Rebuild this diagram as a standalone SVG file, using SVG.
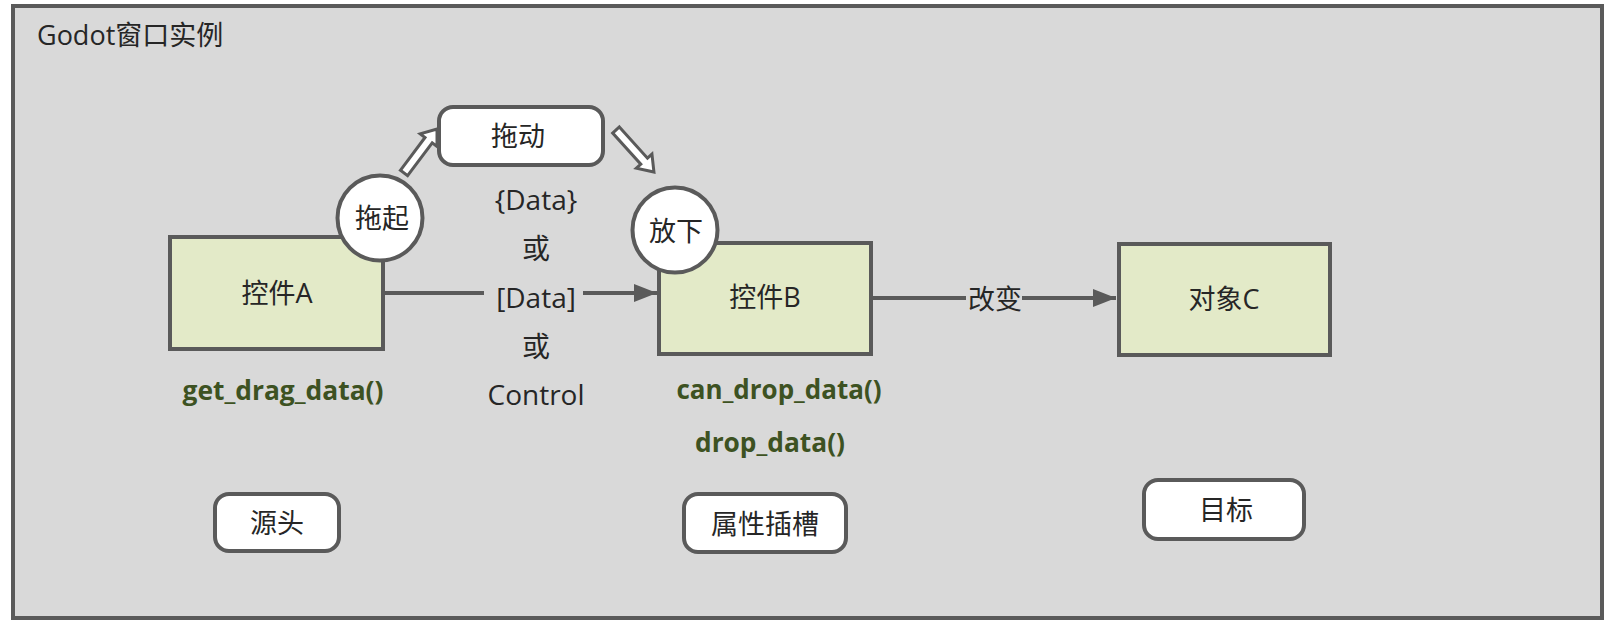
<svg xmlns="http://www.w3.org/2000/svg" width="1614" height="623" viewBox="0 0 1614 623">
<style>
.t{font-family:"Open Sans","Noto Sans CJK SC",sans-serif;font-size:27px;fill:#262626;text-anchor:middle}
.m{font-size:28px}
.g{font-family:"Open Sans","Noto Sans CJK SC",sans-serif;font-weight:bold;font-size:26px;fill:#3d5222;text-anchor:middle}
.box{fill:#e3eac8;stroke:#5a5a5a;stroke-width:4}
.rr{fill:#ffffff;stroke:#5a5a5a;stroke-width:4}
.ln{fill:none;stroke:#5a5a5a;stroke-width:4}
.ha{fill:#ffffff;stroke:#5a5a5a;stroke-width:3;stroke-linejoin:miter}
</style>
<defs>
<marker id="ah" markerUnits="userSpaceOnUse" markerWidth="23" markerHeight="18" refX="23" refY="9" orient="auto">
<path d="M0,0 L23,9 L0,18 z" fill="#5a5a5a"/>
</marker>
</defs>
<g id="frame">
<rect x="13" y="6" width="1589" height="612" fill="#d9d9d9" stroke="#5a5a5a" stroke-width="4"/>
<text class="t" x="37" y="45" style="text-anchor:start">Godot窗口实例</text>
</g>
<g id="connectors">
<line class="ln" x1="385" y1="293" x2="484" y2="293"/>
<line class="ln" x1="583" y1="293" x2="657" y2="293" marker-end="url(#ah)"/>
<line class="ln" x1="873" y1="298" x2="966" y2="298"/>
<line class="ln" x1="1022" y1="298" x2="1116" y2="298" marker-end="url(#ah)"/>
<text class="t" x="995" y="309">改变</text>
<polygon class="ha" transform="translate(404,173) rotate(-53.1)" points="0,-4.5 41,-4.5 41,-10.5 55,0 41,10.5 41,4.5 0,4.5"/>
<polygon class="ha" transform="translate(616,130) rotate(47.9)" points="0,-4.5 42,-4.5 42,-10.5 56.6,0 42,10.5 42,4.5 0,4.5"/>
</g>
<g id="data-label">
<text class="t m" x="536" y="210">{Data}</text>
<text class="t m" x="536" y="259">或</text>
<text class="t m" x="536" y="308">[Data]</text>
<text class="t m" x="536" y="357">或</text>
<text class="t m" x="536" y="405">Control</text>
</g>
<g id="nodeA">
<rect class="box" x="170" y="237" width="213" height="112"/>
<text class="t" x="277" y="303">控件A</text>
<text class="g" x="283" y="400" textLength="201" lengthAdjust="spacingAndGlyphs">get_drag_data()</text>
</g>
<g id="nodeB">
<rect class="box" x="659" y="243" width="212" height="111"/>
<text class="t" x="765" y="307">控件B</text>
<text class="g" x="779" y="399" textLength="205" lengthAdjust="spacingAndGlyphs">can_drop_data()</text>
<text class="g" x="770" y="452" textLength="150" lengthAdjust="spacingAndGlyphs">drop_data()</text>
</g>
<g id="nodeC">
<rect class="box" x="1119" y="244" width="211" height="111"/>
<text class="t" x="1224" y="309">对象C</text>
</g>
<g id="drag">
<rect class="rr" x="439" y="107" width="164" height="58" rx="14"/>
<text class="t" x="518" y="146">拖动</text>
</g>
<g id="pickup">
<circle class="rr" cx="380" cy="218" r="42.5"/>
<text class="t" x="382" y="228">拖起</text>
</g>
<g id="drop">
<circle class="rr" cx="675" cy="230" r="42.5"/>
<text class="t" x="676" y="241">放下</text>
</g>
<g id="source">
<rect class="rr" x="215" y="494" width="124" height="57" rx="14"/>
<text class="t" x="277" y="533">源头</text>
</g>
<g id="slot">
<rect class="rr" x="684" y="494" width="162" height="58" rx="14"/>
<text class="t" x="765" y="534">属性插槽</text>
</g>
<g id="target">
<rect class="rr" x="1144" y="480" width="160" height="59" rx="14"/>
<text class="t" x="1226" y="520">目标</text>
</g>
</svg>
